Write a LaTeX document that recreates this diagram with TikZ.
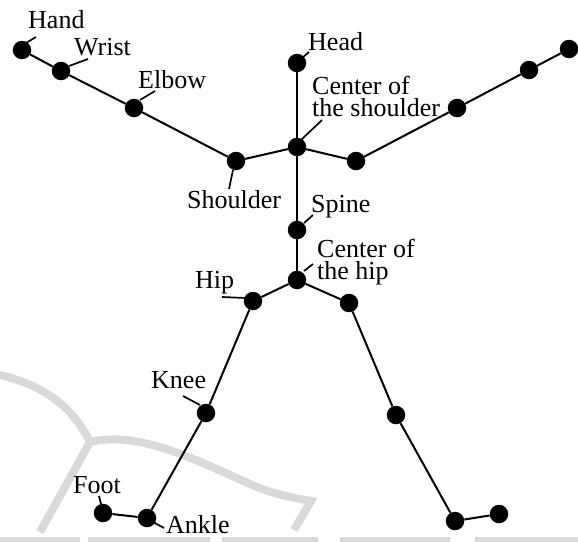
\documentclass[tikz,border=0pt]{standalone}
\usepackage{fontspec}
\setmainfont{Liberation Serif}
\begin{document}
\begin{tikzpicture}[x=1pt,y=-1pt,
  joint/.style={circle,fill=black,inner sep=0pt,minimum size=18.5pt},
  bone/.style={line width=2pt},
  leader/.style={line width=1.7pt},
  lbl/.style={inner sep=0pt,anchor=base west,font=\fontsize{26}{22}\selectfont},
  lbltwo/.style={inner sep=0pt,anchor=north west,align=left,font=\fontsize{26}{22}\selectfont},
  wmark/.style={line width=8pt,draw=black!15}]
\useasboundingbox (0,0) rectangle (578,541);
% watermark
\begin{scope}
\clip (0,0) rectangle (578,541);
\draw[wmark] (-5,374) .. controls (40,383) and (72,405) .. (90,442);
\draw[wmark] (90,442) -- (40,532);
\draw[wmark] (90,442) .. controls (140,430) and (200,462) .. (250,484) .. controls (275,495) and (295,498) .. (311,501) -- (294,530);
\fill[black!15] (0,537) rectangle (80,545) (88,537) rectangle (210,545) (222,537) rectangle (318,545) (340,537) rectangle (450,545) (475,537) rectangle (578,545);
\end{scope}
% joints
\node[joint] (handL) at (22,50) {};
\node[joint] (wristL) at (61,71) {};
\node[joint] (elbowL) at (134,108) {};
\node[joint] (shoulderL) at (236,161) {};
\node[joint] (cshoulder) at (297,147) {};
\node[joint] (head) at (297,63) {};
\node[joint] (shoulderR) at (356,161) {};
\node[joint] (elbowR) at (457,108) {};
\node[joint] (wristR) at (529,70) {};
\node[joint] (handR) at (569,49) {};
\node[joint] (spine) at (297,230) {};
\node[joint] (chip) at (297,280) {};
\node[joint] (hipL) at (253,301) {};
\node[joint] (hipR) at (349,303) {};
\node[joint] (kneeL) at (206,413) {};
\node[joint] (kneeR) at (396,415) {};
\node[joint] (ankleL) at (147,518) {};
\node[joint] (ankleR) at (455,521) {};
\node[joint] (footL) at (103,513) {};
\node[joint] (footR) at (499,514) {};
% bones
\draw[bone] (handL) -- (wristL) -- (elbowL) -- (shoulderL) -- (cshoulder) -- (shoulderR) -- (elbowR) -- (wristR) -- (handR);
\draw[bone] (head) -- (cshoulder) -- (spine) -- (chip);
\draw[bone] (footL) -- (ankleL) -- (kneeL) -- (hipL) -- (chip) -- (hipR) -- (kneeR) -- (ankleR) -- (footR);
% labels
\node[lbl] (tHand) at (28,28) {Hand};
\node[lbl] (tWrist) at (74,55) {Wrist};
\node[lbl] (tElbow) at (138,88) {Elbow};
\node[lbl] (tShoulder) at (187,208) {Shoulder};
\node[lbl] (tHead) at (308,50) {Head};
\node[lbltwo] (tCS) at (312,75.5) {Center of\\the shoulder};
\node[lbl] (tSpine) at (311,212) {Spine};
\node[lbltwo] (tCH) at (317,238.5) {Center of\\the hip};
\node[lbl] (tHip) at (195,288) {Hip};
\node[lbl] (tKnee) at (151,388) {Knee};
\node[lbl] (tFoot) at (73,493) {Foot};
\node[lbl] (tAnkle) at (166,533) {Ankle};
% leader coordinates
\coordinate (a1) at (26,43);   \coordinate (b1) at (36,37);
\coordinate (a2) at (69,66);   \coordinate (b2) at (88,59);
\coordinate (a3) at (140,100); \coordinate (b3) at (155,91);
\coordinate (a4) at (233,170); \coordinate (b4) at (229,189);
\coordinate (a5) at (302,58);  \coordinate (b5) at (309,52);
\coordinate (a6) at (301,140); \coordinate (b6) at (322,120);
\coordinate (a7) at (304,223); \coordinate (b7) at (313,215);
\coordinate (a8) at (304,271); \coordinate (b8) at (313,264);
\coordinate (a9) at (246,298); \coordinate (b9) at (222,297);
\coordinate (a10) at (200,405); \coordinate (b10) at (183,396);
\coordinate (a11) at (101,504); \coordinate (b11) at (99,496);
\coordinate (a12) at (153,522); \coordinate (b12) at (164,528);
\foreach \i in {1,...,12} {\draw[leader] (a\i) -- (b\i);}
\end{tikzpicture}
\end{document}
